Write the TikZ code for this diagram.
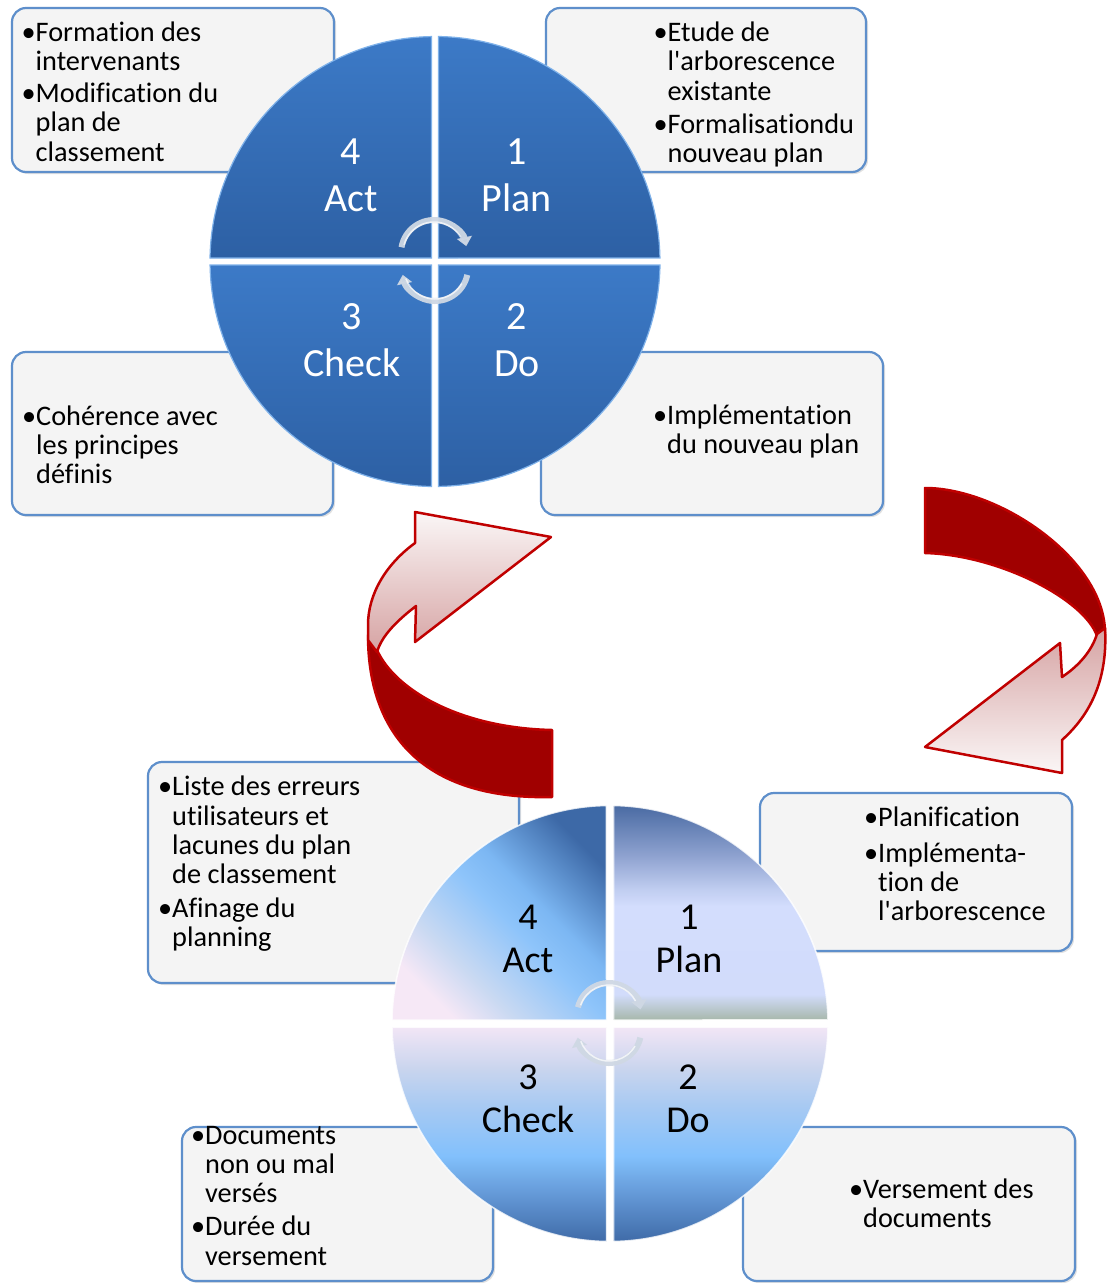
\documentclass[tikz,border=0pt]{standalone}
\usepackage{fontspec}
\setmainfont{Carlito}[Ligatures={TeXOff,NoCommon}]
\usetikzlibrary{arrows.meta,shadows}

% box and arrow colours
\definecolor{boxline}{HTML}{5E8FCB}
\definecolor{boxfill}{HTML}{F4F4F4}
\definecolor{ribbondark}{HTML}{A00000}
\definecolor{ribbonedge}{HTML}{C00000}
\definecolor{ribbonpale}{HTML}{FAF6F6}
\definecolor{ribbonpink}{HTML}{D6A3A3}
\definecolor{cyclegrey}{HTML}{CFD8E4}

% dark cycle (top)
\definecolor{darktop}{HTML}{3C7AC7}
\definecolor{darkbot}{HTML}{2D60A4}
\definecolor{darkrim}{HTML}{7FB2EA}

% pale cycle (bottom)
\definecolor{p0}{HTML}{A7B7AB}
\definecolor{p1}{HTML}{B9C7CC}
\definecolor{p2}{HTML}{D2DCFB}
\definecolor{p3}{HTML}{D3DDFD}
\definecolor{p4}{HTML}{C0CDF0}
\definecolor{p5}{HTML}{8DA1CF}
\definecolor{p6}{HTML}{4A6BA3}
\definecolor{a0}{HTML}{F6E8F6}
\definecolor{a1}{HTML}{C9D9F2}
\definecolor{a2}{HTML}{8EC4FA}
\definecolor{a3}{HTML}{7CB7F3}
\definecolor{a4}{HTML}{3D69A7}
\definecolor{c0}{HTML}{3F6BA8}
\definecolor{c1}{HTML}{5A8CCA}
\definecolor{c2}{HTML}{82C0FC}
\definecolor{c3}{HTML}{A9CAF2}
\definecolor{c4}{HTML}{CAD5EE}
\definecolor{c5}{HTML}{F2E6F6}

\pgfdeclareverticalshading{qplan}{100bp}{color(0bp)=(p0); color(25bp)=(p0); color(27.5bp)=(p1); color(31bp)=(p2); color(51.5bp)=(p3); color(55.5bp)=(p4); color(63.5bp)=(p5); color(75bp)=(p6); color(100bp)=(p6)}
\pgfdeclareverticalshading{qact}{100bp}{color(0bp)=(a0); color(25bp)=(a0); color(35bp)=(a1); color(50bp)=(a2); color(58bp)=(a3); color(75bp)=(a4); color(100bp)=(a4)}
\pgfdeclareverticalshading{qlow}{100bp}{color(0bp)=(c0); color(25bp)=(c0); color(33bp)=(c1); color(45bp)=(c2); color(57bp)=(c3); color(65.5bp)=(c4); color(75bp)=(c5); color(100bp)=(c5)}

\newcommand\firststrut{\rule{0pt}{24pt}}
\newcommand\bul{\llap{•}}

\begin{document}
\begin{tikzpicture}[x=1pt,y=-1pt,
  infobox/.style={draw=boxline, fill=boxfill, line width=2.2pt, rounded corners=14pt,
    general shadow={fill=black, opacity=0.12, shadow xshift=2pt, shadow yshift=-2pt}},
  boxtext/.style={anchor=north west, align=left, inner sep=0pt,
    font=\fontsize{28.3}{29.2}\selectfont},
  darklabel/.style={anchor=south, align=center, inner sep=0pt, text=white,
    font=\fontsize{40}{47}\selectfont},
  palelabel/.style={anchor=south, align=center, inner sep=0pt, text=black,
    font=\fontsize{38}{43}\selectfont},
  darkquad/.style={top color=darktop, bottom color=darkbot, draw=darkrim, line width=1.2pt},
  palerim/.style={draw=white, draw opacity=0.8, line width=1.5pt},
  turn/.style={draw=cyclegrey, line width=6pt, opacity=0.95,
    -{Triangle[length=9pt,width=15pt]}},
  turnshine/.style={draw=white, line width=1.5pt, opacity=0.7},
  ribbonband/.style={fill=ribbondark, draw=ribbonedge, line width=2.5pt, line join=round},
  ribbonhead/.style={draw=ribbonedge, line width=2.5pt, line join=round},
]
\useasboundingbox[fill=white] (0,0) rectangle (1112,1283);

% ---------- first cycle: boxes ----------
\path[infobox] (12,8) rectangle (334,172);
\path[infobox] (546,8) rectangle (866,172);
\path[infobox] (12,352) rectangle (333,515);
\path[infobox] (541,352) rectangle (883,515);

\node[boxtext] (act1) at (35.5,17) {\firststrut\bul Formation des\\intervenants\\[3pt]\bul Modification du\\plan de\\classement};
\node[boxtext] (plan1) at (667.5,17.5) {\firststrut\bul Etude de\\l'arborescence\\existante\\[4pt]\bul Formalisationdu\\nouveau plan};
\node[boxtext] (check1) at (36,401) {\firststrut\bul Cohérence avec\\les principes\\définis};
\node[boxtext] (do1) at (667,400) {\firststrut\bul Implémentation\\du nouveau plan};

% ---------- first cycle: segmented disc ----------
\shadedraw[darkquad] (438.5,258) -- (438.5,36.5) arc[start angle=-89.1, end angle=-0.9, radius=225] -- cycle;
\shadedraw[darkquad] (431.5,258) -- (210,258) arc[start angle=180.9, end angle=269.1, radius=225] -- cycle;
\shadedraw[darkquad] (431.5,265) -- (431.5,486.5) arc[start angle=90.9, end angle=179.1, radius=225] -- cycle;
\shadedraw[darkquad] (438.5,265) -- (660,265) arc[start angle=0.9, end angle=89.1, radius=225] -- cycle;

\node[darklabel] (q4a) at (351,212) {4\\Act};
\node[darklabel] (q1a) at (517,212) {1\\Plan};
\node[darklabel] (q3a) at (352,377) {3\\Check};
\node[darklabel] (q2a) at (517,377) {2\\Do};

\draw[turn] (434,253) ++(190:33) arc[start angle=190, end angle=348, radius=33];
\draw[turn] (435,268) ++(12:33) arc[start angle=12, end angle=168, radius=33];
\draw[turnshine] (434,253) ++(195:31) arc[start angle=195, end angle=330, radius=31];
\draw[turnshine] (435,268) ++(30:31) arc[start angle=30, end angle=160, radius=31];

% ---------- second cycle: boxes ----------
\path[infobox] (148,762) rectangle (519,983);
\path[infobox] (760,793) rectangle (1072,951);
\path[infobox] (182,1127) rectangle (493,1281);
\path[infobox] (743,1127) rectangle (1075,1281);

\node[boxtext] (act2) at (172,771.7) {\firststrut\bul Liste des erreurs\\utilisateurs et\\lacunes du plan\\de classement\\[4.5pt]\bul Afinage du\\planning};
\node[boxtext] (plan2) at (878,802.7) {\firststrut\bul Planification\\[6pt]\bul Implémenta-\\tion de\\l'arborescence};
\node[boxtext] (check2) at (205,1120) {\firststrut\bul Documents\\non ou mal\\versés\\[4pt]\bul Durée du\\versement};
\node[boxtext] (do2) at (863,1174) {\firststrut\bul Versement des\\documents};

% ---------- second cycle: segmented disc ----------
\shade[shading=qplan] (613.5,1020) -- (613.5,805.5) arc[start angle=-89.08, end angle=-0.92, radius=218] -- cycle;
\shade[shading=qact, shading angle=-45] (606.5,1020) -- (392,1020) arc[start angle=180.92, end angle=269.08, radius=218] -- cycle;
\shade[shading=qlow] (606.5,1027) -- (606.5,1241.5) arc[start angle=90.92, end angle=179.08, radius=218] -- cycle;
\shade[shading=qlow] (613.5,1027) -- (828,1027) arc[start angle=0.92, end angle=89.08, radius=218] -- cycle;
\draw[palerim] (613.5,1020) -- (613.5,805.5) arc[start angle=-89.08, end angle=-0.92, radius=218] -- cycle;
\draw[palerim] (606.5,1020) -- (392,1020) arc[start angle=180.92, end angle=269.08, radius=218] -- cycle;
\draw[palerim] (606.5,1027) -- (606.5,1241.5) arc[start angle=90.92, end angle=179.08, radius=218] -- cycle;
\draw[palerim] (613.5,1027) -- (828,1027) arc[start angle=0.92, end angle=89.08, radius=218] -- cycle;

\node[palelabel] (q4b) at (528,973) {4\\Act};
\node[palelabel] (q1b) at (689,973) {1\\Plan};
\node[palelabel] (q3b) at (528,1133) {3\\Check};
\node[palelabel] (q2b) at (688,1133) {2\\Do};

\draw[turn] (609,1015) ++(194:32) arc[start angle=194, end angle=350, radius=32];
\draw[turn] (609,1031) ++(12:32) arc[start angle=12, end angle=168, radius=32];
\draw[turnshine] (609,1015) ++(199:30) arc[start angle=199, end angle=332, radius=30];
\draw[turnshine] (609,1031) ++(30:30) arc[start angle=30, end angle=160, radius=30];

% ---------- curved ribbon arrows between the two cycles ----------
% rising ribbon on the left
\filldraw[ribbonband] (368,635) .. controls (368,740) and (430,800) .. (552,797)
  -- (552,730) .. controls (460,728) and (395,690) .. (377,650) -- cycle;
\shadedraw[ribbonhead, top color=ribbonpale, bottom color=ribbonpink]
  (415,512) -- (551,537) -- (415,642) -- (416,606)
  .. controls (398,620) and (382,635) .. (377,652) -- (368,640) -- (368,625)
  .. controls (368,595) and (385,565) .. (415,543) -- cycle;

% falling ribbon on the right
\filldraw[ribbonband] (925,488) .. controls (1000,488) and (1105,560) .. (1105,633)
  -- (1097,636) .. controls (1085,600) and (1000,555) .. (925,553) -- cycle;
\shadedraw[ribbonhead, top color=ribbonpink, bottom color=ribbonpale]
  (1105,628) .. controls (1108,680) and (1090,715) .. (1062,740)
  -- (1062,773) -- (925,747) -- (1060,643) -- (1062,677)
  .. controls (1080,665) and (1092,650) .. (1097,634) -- cycle;
\end{tikzpicture}
\end{document}
